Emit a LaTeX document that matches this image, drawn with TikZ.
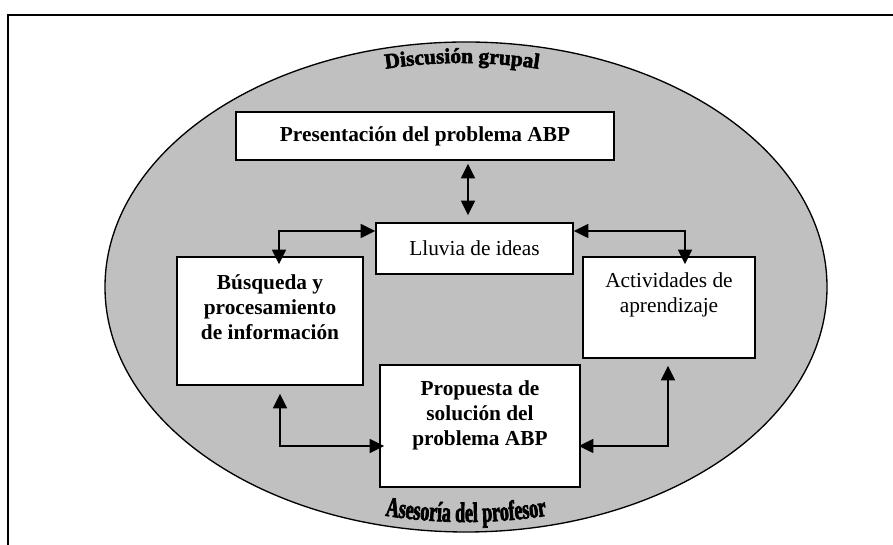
\documentclass[tikz,border=0pt]{standalone}
\usepackage{fontspec}
\setmainfont{Liberation Serif}
\newfontfamily\topcurvefont{Liberation Serif Bold}[FakeBold=2.5]
\newfontfamily\botcurvefont{Liberation Serif Bold}[FakeStretch=0.64,FakeBold=2.5]
\usetikzlibrary{arrows.meta,calc,decorations.text}
\definecolor{ellgray}{HTML}{C0C0C0}
\begin{document}
\begin{tikzpicture}[x=0.75pt,y=0.75pt,
  boxnode/.style={draw=black,line width=1.2pt,fill=white,inner sep=0pt},
  txt/.style={align=center,font=\fontsize{16}{18.75}\selectfont,inner sep=0pt},
  btxt/.style={align=center,font=\fontsize{16}{18.75}\selectfont\bfseries,inner sep=0pt},
  arr/.style={line width=1.3pt,{Triangle[length=11pt,width=10.5pt]}-{Triangle[length=11pt,width=10.5pt]}},
  curvetext/.style={decorate,decoration={text along path,text align=center,text={#1}}}
]
\useasboundingbox (0,0) rectangle (893,545);
% frame
\draw[line width=1.5pt] (8,0) -- (8,530) -- (893,530);
% ellipse
\draw[line width=1pt,fill=ellgray] (466,258) ellipse [x radius=361,y radius=245];
% curved texts
\path[curvetext={|\topcurvefont\fontsize{16}{18}\selectfont|Discusión grupal}]
  (462,258) ++(120:339 and 224) arc[start angle=120,end angle=60,x radius=339,y radius=224];
\path[curvetext={|\botcurvefont\fontsize{21}{24}\selectfont|Asesoría del profesor}]
  (466,258) ++(240:350 and 235) arc[start angle=240,end angle=300,x radius=350,y radius=235];
% boxes
\node[boxnode,minimum width=283.5pt,minimum height=36pt] (pres) at (425,409) {};
\node[boxnode,minimum width=147.75pt,minimum height=38.25pt] (lluv) at (474.5,296.5) {};
\node[boxnode,minimum width=139.5pt,minimum height=96pt] (bus) at (270,224) {};
\node[boxnode,minimum width=129pt,minimum height=75.75pt] (act) at (669,237.5) {};
\node[boxnode,minimum width=150pt,minimum height=91.5pt] (prop) at (480,119) {};
% texts
\node[btxt] (prestext) at (pres.center) {Presentación del problema ABP};
\node[txt] (lluvtext) at (lluv.center) {Lluvia de ideas};
\node[btxt] (bustext) at (270,238) {Búsqueda y\\procesamiento\\de información};
\node[txt] (acttext) at (669,250.5) {Actividades de\\aprendizaje};
\node[btxt] (proptext) at (480,130) {Propuesta de\\solución del\\problema ABP};
% connectors
\draw[arr] ($(pres.south)+(43,-3)$) -- ($(lluv.north)+(-6.5,7)$);
\draw[arr] ($(lluv.west)+(0,17.5)$) -| ($(bus.north)+(9,-8)$);
\draw[arr] ($(lluv.east)+(0,17.5)$) -| ($(act.north)+(16,-8)$);
\draw[arr] ($(bus.south)+(10,-8)$) |- ($(prop.west)+(5,-20)$);
\draw[arr] ($(act.south)+(-1,-7)$) |- ($(prop.east)+(-2,-20)$);
\end{tikzpicture}
\end{document}
